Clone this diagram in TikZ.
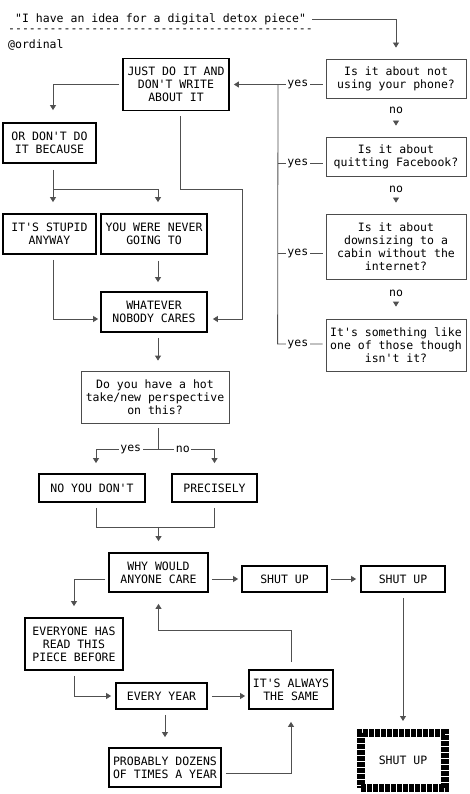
\documentclass[tikz,border=0pt]{standalone}
\usepackage{fontspec}
\setmonofont{DejaVu Sans Mono}
\usepackage{tikz}
\usetikzlibrary{arrows.meta,positioning,calc}
\definecolor{linegray}{RGB}{80,80,80}
\newcommand{\chartfont}{\ttfamily\fontsize{11.5}{13}\selectfont}
\tikzset{
  flowbox/.style={
    draw,align=center,inner sep=2pt,font=\chartfont
  },
  questionbox/.style={flowbox,draw=black!70,line width=0.8pt},
  shoutbox/.style={flowbox,draw=black,line width=1.8pt},
  finalbox/.style={flowbox,draw=black,line width=8pt,dash pattern=on 5pt off 1pt},
  flowline/.style={draw=linegray,line width=0.8pt},
  flowarrow/.style={flowline,-{Triangle[width=6pt,length=5pt]}},
  choicelabel/.style={font=\chartfont,fill=white,inner sep=1.5pt},
  plaintext/.style={font=\chartfont,inner sep=0pt,anchor=west}
}

\begin{document}
\begin{tikzpicture}[x=1pt,y=-1pt]
  \useasboundingbox (0,0) rectangle (470,794);
  % header
  \node[plaintext] (title) at (15,19) {"I have an idea for a digital detox piece"};
  \node[plaintext] (rule) at (8,31) {--------------------------------------------};
  \node[plaintext] (handle) at (8,45) {@ordinal};

  % questions on the right
  \node[questionbox,minimum width=140pt,minimum height=39pt] (phone) at (396,78.5)
    {Is it about not\\using your phone?};
  \node[questionbox,minimum width=140pt,minimum height=39pt] (facebook) at (396,156.5)
    {Is it about\\quitting Facebook?};
  \node[questionbox,minimum width=140pt,minimum height=65pt] (cabin) at (396,246.5)
    {Is it about\\downsizing to a\\cabin without the\\internet?};
  \node[questionbox,minimum width=140pt,minimum height=52pt] (similar) at (396,345)
    {It's something like\\one of those though\\isn't it?};
  \node[choicelabel] (no1) at (396,110) {no};
  \node[choicelabel] (no2) at (396,189) {no};
  \node[choicelabel] (no3) at (396,293) {no};

  % left column
  \node[shoutbox,minimum width=106pt,minimum height=52pt] (justdo) at (176,84.5)
    {JUST DO IT AND\\DON'T WRITE\\ABOUT IT};
  \node[shoutbox,minimum width=93pt,minimum height=40pt] (ordont) at (49.5,143)
    {OR DON'T DO\\IT BECAUSE};
  \node[shoutbox,minimum width=93pt,minimum height=40pt] (stupid) at (49.5,234)
    {IT'S STUPID\\ANYWAY};
  \node[shoutbox,minimum width=106pt,minimum height=40pt] (never) at (154,234)
    {YOU WERE NEVER\\GOING TO};
  \node[shoutbox,minimum width=106pt,minimum height=40pt] (whatever) at (154,312)
    {WHATEVER\\NOBODY CARES};
  \node[questionbox,minimum width=148pt,minimum height=52pt] (hottake) at (155,397)
    {Do you have a hot\\take/new perspective\\on this?};
  \node[shoutbox,minimum width=106pt,minimum height=28pt] (nodont) at (92,488) {NO YOU DON'T};
  \node[shoutbox,minimum width=85pt,minimum height=28pt] (precisely) at (214.5,488) {PRECISELY};
  \node[shoutbox,minimum width=99pt,minimum height=39pt] (whycare) at (158.5,572.5)
    {WHY WOULD\\ANYONE CARE};
  \node[shoutbox,minimum width=85pt,minimum height=26pt] (shut1) at (284.5,579) {SHUT UP};
  \node[shoutbox,minimum width=84pt,minimum height=26pt] (shut2) at (403,579) {SHUT UP};
  \node[finalbox,minimum width=84pt,minimum height=55pt] (shutfinal) at (403,760.5) {SHUT UP};
  \node[shoutbox,minimum width=98pt,minimum height=52pt] (readbefore) at (74,644)
    {EVERYONE HAS\\READ THIS\\PIECE BEFORE};
  \node[shoutbox,minimum width=91pt,minimum height=26pt] (everyyear) at (161.5,696) {EVERY YEAR};
  \node[shoutbox,minimum width=84pt,minimum height=39pt] (always) at (291,689.5)
    {IT'S ALWAYS\\THE SAME};
  \node[shoutbox,minimum width=112pt,minimum height=39pt] (dozens) at (165,767.5)
    {PROBABLY DOZENS\\OF TIMES A YEAR};

  % entry and the "no" chain
  \draw[flowarrow,shorten <=6pt,shorten >=11pt] (title.east) -| (phone.north);
  \draw[flowarrow,shorten <=6.5pt,shorten >=11pt] (no1) -- (facebook);
  \draw[flowarrow,shorten <=4pt,shorten >=11pt] (no2) -- (cabin);
  \draw[flowarrow,shorten <=4.5pt,shorten >=12pt] (no3) -- (similar);

  % every "yes" goes to just do it
  \coordinate (bus) at (278,84.5);
  \draw[flowarrow,shorten <=3pt,shorten >=4pt] ([yshift=-6pt]phone.west) --
    node[choicelabel,pos=.29] {yes} (justdo.east);
  \draw[flowline] ([xshift=-3pt,yshift=-6.5pt]facebook.west) --
    node[choicelabel,pos=.55] {yes} ++(-45,0);
  \draw[flowline] ([xshift=-3pt,yshift=-6.5pt]cabin.west) --
    node[choicelabel,pos=.55] {yes} ++(-45,0);
  \draw[flowline] ([xshift=-3pt,yshift=1pt]similar.west) --
    node[choicelabel,pos=.55] {yes} ++(-45,0) -- (bus);

  % left column
  \draw[flowarrow,shorten <=3pt,shorten >=12pt] (justdo.west) -| ([xshift=3.5pt]ordont.north);
  \draw[flowarrow,shorten <=5pt,shorten >=5pt] ([xshift=4pt]justdo.south) -- ++(0,78) -- ++(62,0)
    |- ([yshift=-7pt]whatever.east);
  \draw[flowarrow,shorten <=6pt,shorten >=11pt] ([xshift=3.5pt]ordont.south) -- ([xshift=3.5pt]stupid.north);
  \draw[flowarrow,shorten >=11pt] ([xshift=3.5pt]ordont.south) ++(0,26) -| ([xshift=4pt]never.north);
  \draw[flowarrow,shorten <=5pt,shorten >=2pt] ([xshift=3.5pt]stupid.south) |- ([yshift=-7pt]whatever.west);
  \draw[flowarrow,shorten <=6pt,shorten >=9pt] ([xshift=4pt]never.south) -- ([xshift=4pt]whatever.north);
  \draw[flowarrow,shorten <=5pt,shorten >=10pt] ([xshift=4pt]whatever.south) -- ([xshift=3pt]hottake.north);

  % hot take split and merge
  \coordinate (split) at ([xshift=3pt,yshift=-26pt]hottake.south);
  \draw[flowline,shorten <=5pt] ([xshift=3pt]hottake.south) -- (split);
  \draw[flowarrow,shorten >=10pt] (split) -| node[choicelabel,pos=.22] {yes} ([xshift=4pt]nodont.north);
  \draw[flowarrow,shorten >=10pt] (split) -| node[choicelabel,pos=.22] {no} (precisely.north);
  \coordinate (join) at ([yshift=-24pt]precisely.south);
  \draw[flowline,shorten <=5pt] ([xshift=4pt]nodont.south) |- (join);
  \draw[flowline,shorten <=5pt] (precisely.south) -- (join);
  \draw[flowarrow,shorten >=11pt] (join -| whycare.north) -- (whycare.north);

  % why would anyone care
  \draw[flowarrow,shorten <=3pt,shorten >=3pt] (whycare.east |- shut1) -- (shut1.west);
  \draw[flowarrow,shorten <=3pt,shorten >=4pt] (shut1.east) -- (shut2.west);
  \draw[flowarrow,shorten <=5pt,shorten >=8pt] (shut2.south) -- (shutfinal.north);
  \draw[flowarrow,shorten <=3pt,shorten >=11pt] (whycare.west |- shut1) -| (readbefore.north);
  \draw[flowarrow,shorten <=5pt,shorten >=4pt] (readbefore.south) |- (everyyear.west);
  \draw[flowarrow,shorten <=4pt,shorten >=3pt] (everyyear.east) -- (everyyear.east -| always.west);
  \draw[flowarrow,shorten <=5pt,shorten >=10pt] ([xshift=3.5pt]everyyear.south) -- (dozens.north);
  \draw[flowarrow,shorten <=4pt,shorten >=12pt] ([yshift=-5.5pt]dozens.east) -| (always.south);
  \draw[flowarrow,shorten <=7pt,shorten >=11pt] (always.north) -- ++(0,-39) -| (whycare.south);
\end{tikzpicture}
\end{document}
